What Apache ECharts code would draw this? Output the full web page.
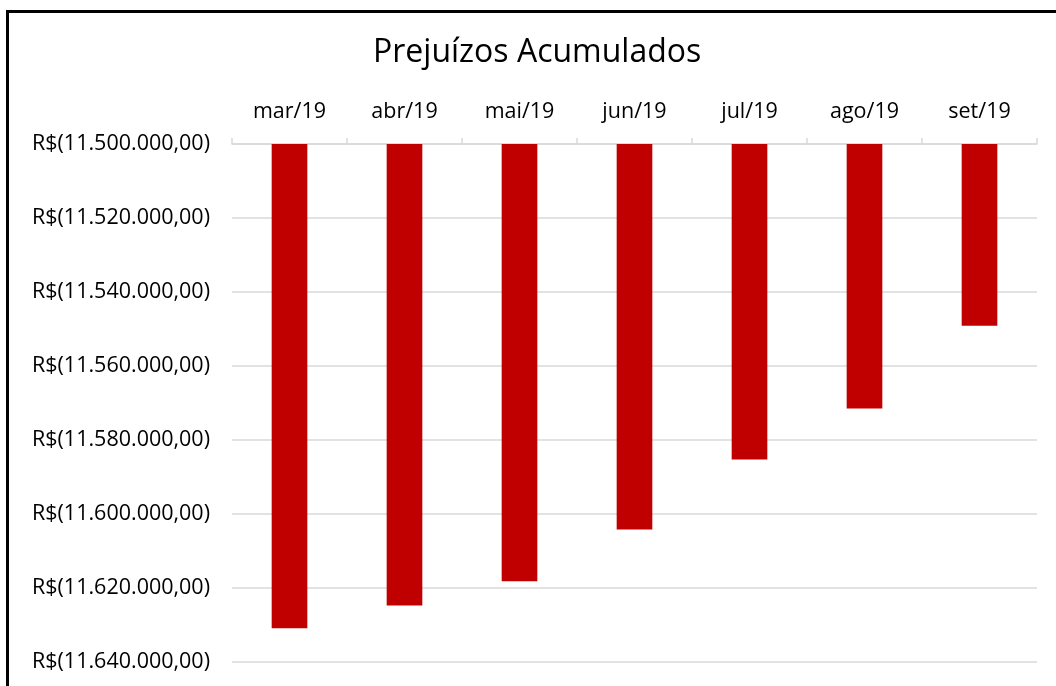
<!DOCTYPE html>
<html>
<head>
<meta charset="utf-8">
<script src="https://cdn.jsdelivr.net/npm/echarts@6/dist/echarts.min.js"></script>
<style>
  html, body { margin: 0; padding: 0; background: #fff; overflow: hidden; }
  #frame {
    position: absolute; left: 6px; top: 10px; width: 1200px; height: 800px;
    border-top: 3px solid #000; border-left: 3px solid #000;
  }
  #container { position: absolute; left: 0; top: 0; width: 1056px; height: 686px; }
</style>
</head>
<body>
<div id="frame"></div>
<div id="container"></div>
<script>
// Monthly accumulated losses (R$)
const months = ['mar/19', 'abr/19', 'mai/19', 'jun/19', 'jul/19', 'ago/19', 'set/19'];
const losses = [-11630900, -11624700, -11618200, -11604200, -11585300, -11571500, -11549100];

const container = document.getElementById('container');
const chart = echarts.init(container);

const FONT = '"Open Sans", sans-serif';

// Excel-style currency: negatives in parentheses
function brl(v) {
  const s = Math.abs(v).toFixed(2).split('.');
  const int = s[0].replace(/\B(?=(\d{3})+(?!\d))/g, '.');
  return v < 0 ? 'R$(' + int + ',' + s[1] + ')' : 'R$' + int + ',' + s[1];
}

const option = {
  animation: false,
  title: {
    text: 'Prejuízos Acumulados',
    left: 373,
    top: 37,
    padding: 0,
    textStyle: { fontFamily: FONT, fontSize: 32, fontWeight: 'normal', color: '#000' }
  },
  grid: { left: 232, right: 19, top: 144, bottom: 24 },
  xAxis: {
    type: 'category',
    position: 'top',
    data: months,
    axisLine: { lineStyle: { color: '#d9d9d9', width: 1.5 } },
    axisTick: { show: true, length: 6, lineStyle: { color: '#d9d9d9', width: 1.5 } },
    axisLabel: { fontFamily: FONT, fontSize: 21.5, color: '#000', margin: 21 }
  },
  yAxis: {
    type: 'value',
    min: -11640000,
    max: -11500000,
    interval: 20000,
    axisLine: { show: false },
    axisTick: { show: false },
    axisLabel: { fontFamily: FONT, fontSize: 21.5, color: '#000', margin: 22, formatter: brl },
    splitLine: { lineStyle: { color: '#d9d9d9', width: 1.5 } }
  },
  series: [{
    type: 'bar',
    data: losses,
    barWidth: '31%',
    itemStyle: { color: '#c00000' }
  }]
};

chart.setOption(option);
</script>
</body>
</html>
